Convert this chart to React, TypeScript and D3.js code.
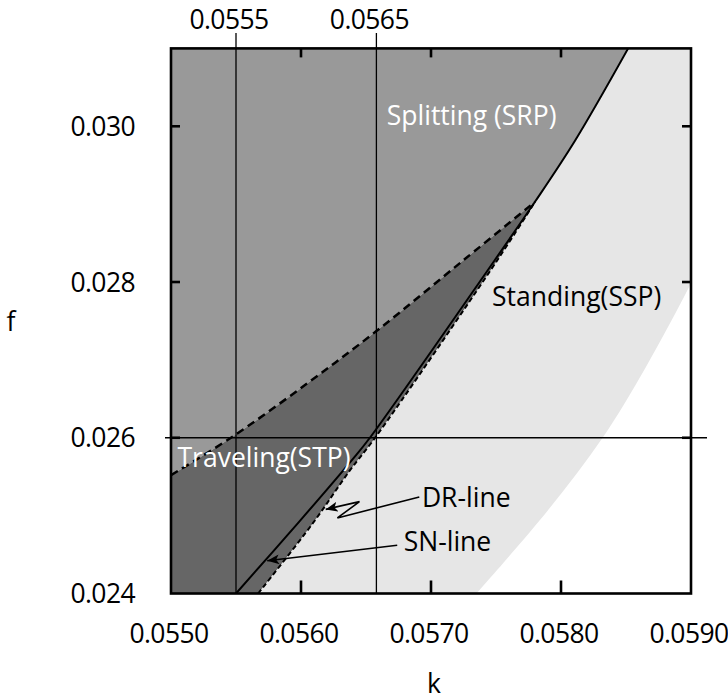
import React from "react";
import * as d3 from "d3";

// ---- axes ----
const kDomain: [number, number] = [0.055, 0.059];
const fDomain: [number, number] = [0.024, 0.031];
const kTicks = [0.055, 0.056, 0.057, 0.058, 0.059];
const kTickLabels = ["0.0550", "0.0560", "0.0570", "0.0580", "0.0590"];
const kInnerTicks = [0.056, 0.057, 0.058];
const fTicks = [0.024, 0.026, 0.028, 0.03];
const fTickLabels = ["0.024", "0.026", "0.028", "0.030"];
const fInnerTicks = [0.026, 0.028, 0.03];

// ---- reference lines ----
const refK = [0.0555, 0.05658];
const refKLabels = ["0.0555", "0.0565"];
const refF = [0.026];

// ---- boundaries (k, f) ----
const snLine: [number, number][] = [
  [0.0555, 0.024],
  [0.05599, 0.02493],
  [0.05639, 0.02571],
  [0.05653, 0.026],
  [0.05749, 0.02828],
  [0.0578, 0.02903],
  [0.05811, 0.02982],
  [0.05852, 0.03101],
];
const drLine: [number, number][] = [
  [0.05567, 0.024],
  [0.05609, 0.0249],
  [0.05638, 0.02559],
  [0.05657, 0.026],
  [0.05751, 0.02828],
  [0.0578, 0.02903],
];
const stpLine: [number, number][] = [
  [0.055, 0.02552],
  [0.05547, 0.02601],
  [0.05605, 0.0267],
  [0.05658, 0.02737],
  [0.05725, 0.02828],
  [0.0578, 0.02903],
];
const sspEdge: [number, number][] = [
  [0.05735, 0.024],
  [0.0579, 0.02507],
  [0.05832, 0.026],
  [0.05865, 0.0269],
  [0.05898, 0.02792],
  [0.05912, 0.02841],
];

// ---- labels ----
const regionLabels = [
  { text: "Splitting (SRP)", k: 0.05666, f: 0.03002, color: "#ffffff" },
  { text: "Standing(SSP)", k: 0.05747, f: 0.02769, color: "#000000" },
  { text: "Traveling(STP)", k: 0.05505, f: 0.02563, color: "#ffffff" },
  { text: "DR-line", k: 0.05693, f: 0.02511, color: "#000000" },
  { text: "SN-line", k: 0.05679, f: 0.02454, color: "#000000" },
];
const drArrow: [number, number][] = [
  [0.05691, 0.02524],
  [0.05628, 0.02497],
  [0.05645, 0.02518],
  [0.05619, 0.02508],
];
const snArrow: [number, number][] = [
  [0.05674, 0.02462],
  [0.05574, 0.02442],
];

const FONT = "'Open Sans', 'Noto Sans', sans-serif";
const FS = 26.5;

export default function App() {
  const x = d3.scaleLinear().domain(kDomain).range([171, 691]);
  const y = d3.scaleLinear().domain(fDomain).range([593.5, 48.4]);
  const lin = d3
    .line<[number, number]>()
    .x((d) => x(d[0]))
    .y((d) => y(d[1]));
  const smooth = d3
    .line<[number, number]>()
    .x((d) => x(d[0]))
    .y((d) => y(d[1]))
    .curve(d3.curveCatmullRom.alpha(0.5));

  const x0 = x(kDomain[0]);
  const x1 = x(kDomain[1]);
  const y0 = y(fDomain[0]);
  const y1 = y(fDomain[1]);

  const rev = (a: [number, number][]) => a.slice().reverse();
  const snUpper = snLine.filter((d) => d[1] >= 0.02903);
  const join = (...parts: string[]) =>
    parts.map((p, i) => (i === 0 ? p : "L" + p.slice(1))).join("") + "Z";
  const S = (a: [number, number][]) => smooth(a) as string;
  const L = (a: [number, number][]) => lin(a) as string;

  const srpPath = join(
    L([[kDomain[0], fDomain[1]]]),
    S(rev(snUpper)),
    S(rev(stpLine))
  );
  const stpPath = join(S(stpLine), S(rev(drLine)), L([[kDomain[0], fDomain[0]]]));
  const sspPath = join(
    S(drLine),
    S(snUpper),
    L([
      [0.0595, fDomain[1]],
      [0.0595, 0.0284],
    ]),
    S(rev(sspEdge))
  );

  const numStyle = { letterSpacing: "-0.6px" };

  return (
    <svg
      width={728}
      height={700}
      style={{ position: "absolute", left: 0, top: 0, background: "#fff" }}
      fontFamily={FONT}
    >
      <defs>
        <clipPath id="plot">
          <rect x={x0} y={y1} width={x1 - x0} height={y0 - y1} />
        </clipPath>
        <marker
          id="arr"
          viewBox="0 0 12 10"
          refX={12}
          refY={5}
          markerWidth={12}
          markerHeight={10}
          markerUnits="userSpaceOnUse"
          orient="auto"
        >
          <path d="M0,0 L12,5 L0,10 L3,5 Z" fill="#000" />
        </marker>
      </defs>

      <g clipPath="url(#plot)">
        <rect x={x0} y={y1} width={x1 - x0} height={y0 - y1} fill="#fff" />
        <path d={sspPath} fill="#e6e6e6" />
        <path d={srpPath} fill="#999999" />
        <path d={stpPath} fill="#666666" />
      </g>

      {/* reference lines */}
      {refK.map((k, i) => (
        <line
          key={"rk" + i}
          x1={x(k)}
          x2={x(k)}
          y1={33}
          y2={y0}
          stroke="#000"
          strokeWidth={1.3}
        />
      ))}
      {refF.map((f, i) => (
        <line
          key={"rf" + i}
          x1={x0 - 6}
          x2={x1 + 16}
          y1={y(f)}
          y2={y(f)}
          stroke="#000"
          strokeWidth={1.3}
        />
      ))}

      <g clipPath="url(#plot)" fill="none" stroke="#000">
        <path d={S(stpLine)} strokeWidth={2.5} strokeDasharray="8,5" />
        <path d={S(drLine)} strokeWidth={2} strokeDasharray="5,3" />
        <path d={S(snLine)} strokeWidth={2} />
      </g>

      {/* arrows */}
      <path
        d={L(drArrow)}
        fill="none"
        stroke="#000"
        strokeWidth={1.6}
        markerEnd="url(#arr)"
      />
      <path
        d={L(snArrow)}
        fill="none"
        stroke="#000"
        strokeWidth={1.6}
        markerEnd="url(#arr)"
      />

      {/* frame */}
      <rect
        x={x0}
        y={y1}
        width={x1 - x0}
        height={y0 - y1}
        fill="none"
        stroke="#000"
        strokeWidth={2.6}
      />
      {kInnerTicks.map((k, i) => (
        <g key={"kt" + i} stroke="#000" strokeWidth={2.6}>
          <line x1={x(k)} x2={x(k)} y1={y0} y2={y0 - 13} />
          <line x1={x(k)} x2={x(k)} y1={y1} y2={y1 + 9} />
        </g>
      ))}
      {fInnerTicks.map((f, i) => (
        <g key={"ft" + i} stroke="#000" strokeWidth={2.6}>
          <line x1={x0} x2={x0 + 9} y1={y(f)} y2={y(f)} />
          <line x1={x1} x2={x1 - 9} y1={y(f)} y2={y(f)} />
        </g>
      ))}

      {/* tick labels */}
      {kTicks.map((k, i) => (
        <text
          key={"kl" + i}
          x={x(k) - 2}
          y={643}
          textAnchor="middle"
          fontSize={FS}
          fill="#000"
          style={numStyle}
        >
          {kTickLabels[i]}
        </text>
      ))}
      {fTicks.map((f, i) => (
        <text
          key={"fl" + i}
          x={135}
          y={y(f) + 9.5}
          textAnchor="end"
          fontSize={FS}
          fill="#000"
          style={numStyle}
        >
          {fTickLabels[i]}
        </text>
      ))}
      {refK.map((k, i) => (
        <text
          key={"rl" + i}
          x={x(k) - 7}
          y={28.5}
          textAnchor="middle"
          fontSize={FS}
          fill="#000"
          style={numStyle}
        >
          {refKLabels[i]}
        </text>
      ))}

      {/* axis titles */}
      <text x={434} y={693} textAnchor="middle" fontSize={FS} fill="#000">
        k
      </text>
      <text x={11} y={331} textAnchor="middle" fontSize={FS} fill="#000">
        f
      </text>

      {/* region labels */}
      {regionLabels.map((d, i) => (
        <text key={"lab" + i} x={x(d.k)} y={y(d.f)} fontSize={FS} fill={d.color}>
          {d.text}
        </text>
      ))}
    </svg>
  );
}
